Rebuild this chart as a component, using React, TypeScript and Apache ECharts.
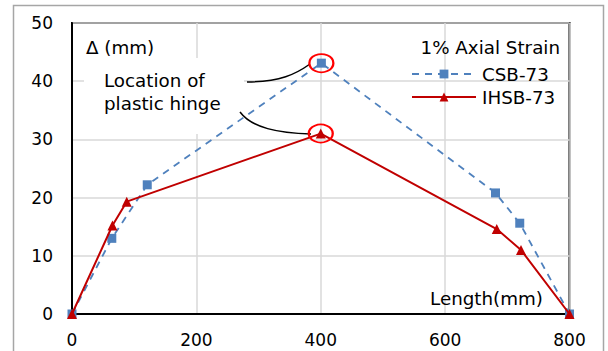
import React, { useEffect, useRef } from "react";
import * as echarts from "echarts";

const xTicks = [0, 200, 400, 600, 800];
const csbName = "CSB-73";
const ihsbName = "IHSB-73";
const csbLength = [0, 64, 121, 401, 681, 720, 800];
const csbDelta = [0, 13.0, 22.2, 43.1, 20.8, 15.6, 0];
const ihsbLength = [0, 65, 88, 400, 683, 722, 800];
const ihsbDelta = [0, 15.2, 19.3, 31.0, 14.6, 11.0, 0];
const hingeIndex = 3;
const legendTitle = "1% Axial Strain";
const yTitle = "\u0394 (mm)";
const xTitle = "Length(mm)";
const noteLines = ["Location of", "plastic hinge"];

const FONT = "DejaVu Sans";
const FS = 17;
const FT = 18.3;

export default function App() {
  const ref = useRef<HTMLDivElement>(null);
  useEffect(() => {
    const chart = echarts.init(ref.current!, null, { renderer: "svg" });
    const pair = (xs: number[], ys: number[]) => xs.map((x, i) => [x, ys[i]]);
    const hingeMark = (xs: number[], ys: number[]) => ({
      symbol: "circle",
      symbolSize: [24, 18],
      silent: true,
      label: { show: false },
      itemStyle: { color: "rgba(0,0,0,0)", borderColor: "#ff0000", borderWidth: 2 },
      data: [{ coord: [xs[hingeIndex], ys[hingeIndex]] }],
    });
    const font = `${FT}px '${FONT}'`;
    chart.setOption({
      animation: false,
      textStyle: { fontFamily: FONT },
      grid: {
        left: 72,
        top: 23,
        right: 38.5,
        bottom: 37,
        show: true,
        borderColor: "#000",
        borderWidth: 2,
        backgroundColor: "#fff",
      },
      xAxis: {
        type: "value",
        min: xTicks[0],
        max: xTicks[xTicks.length - 1],
        interval: 200,
        axisLine: { show: true, lineStyle: { color: "#000", width: 2 } },
        axisTick: { show: false },
        axisLabel: { color: "#000", fontSize: FS, fontFamily: FONT, margin: 17 },
        splitLine: { show: true, lineStyle: { color: "#d9d9d9", width: 1.5 } },
      },
      yAxis: {
        type: "value",
        min: 0,
        max: 50,
        interval: 10,
        axisLine: { show: true, lineStyle: { color: "#000", width: 2 } },
        axisTick: { show: false },
        axisLabel: { color: "#000", fontSize: FS, fontFamily: FONT, margin: 19 },
        splitLine: { show: true, lineStyle: { color: "#d9d9d9", width: 1.5 } },
      },
      legend: {
        orient: "vertical",
        left: 406,
        top: 60,
        itemWidth: 64,
        itemHeight: 11,
        itemGap: 5,
        textStyle: { color: "#000", fontSize: FT, fontFamily: FONT, padding: [0, 0, 0, 1] },
        data: [csbName, ihsbName],
      },
      series: [
        {
          name: csbName,
          type: "line",
          z: 3,
          data: pair(csbLength, csbDelta),
          symbol: "rect",
          symbolSize: 9,
          itemStyle: { color: "#4f81bd" },
          lineStyle: { color: "#4f81bd", width: 1.8, type: [7, 6] },
          markPoint: hingeMark(csbLength, csbDelta),
        },
        {
          name: ihsbName,
          type: "line",
          z: 4,
          data: pair(ihsbLength, ihsbDelta),
          symbol: "triangle",
          symbolSize: 10,
          itemStyle: { color: "#c00000" },
          lineStyle: { color: "#c00000", width: 2 },
          markPoint: hingeMark(ihsbLength, ihsbDelta),
        },
      ],
      graphic: [
        {
          type: "rect",
          z: -10,
          silent: true,
          shape: { x: 13.5, y: 5.5, width: 590, height: 370 },
          style: { fill: "#fff", stroke: "#a6a6a6", lineWidth: 1.5 },
        },
        {
          type: "rect",
          z: 1,
          silent: true,
          shape: { x: 84, y: 58, width: 160, height: 76 },
          style: { fill: "#fff" },
        },
        {
          type: "text",
          z: 5,
          x: 86,
          y: 47,
          style: { text: yTitle, fill: "#000", font, verticalAlign: "middle" },
        },
        {
          type: "text",
          z: 5,
          x: 104,
          y: 80,
          style: { text: noteLines[0], fill: "#000", font, verticalAlign: "middle" },
        },
        {
          type: "text",
          z: 5,
          x: 104,
          y: 103,
          style: { text: noteLines[1], fill: "#000", font, verticalAlign: "middle" },
        },
        {
          type: "text",
          z: 5,
          x: 560,
          y: 47,
          style: { text: legendTitle, fill: "#000", font, align: "right", verticalAlign: "middle" },
        },
        {
          type: "text",
          z: 5,
          x: 543,
          y: 298,
          style: { text: xTitle, fill: "#000", font, align: "right", verticalAlign: "middle" },
        },
        {
          type: "bezierCurve",
          z: 5,
          silent: true,
          shape: { x1: 247, y1: 82, cpx1: 280, cpy1: 82, cpx2: 296, cpy2: 74, x2: 310, y2: 64 },
          style: { stroke: "#000", lineWidth: 1.5, fill: null },
        },
        {
          type: "bezierCurve",
          z: 5,
          silent: true,
          shape: { x1: 240, y1: 112, cpx1: 252, cpy1: 128, cpx2: 278, cpy2: 133, x2: 311, y2: 134 },
          style: { stroke: "#000", lineWidth: 1.5, fill: null },
        },
      ],
    });
    return () => chart.dispose();
  }, []);
  return (
    <div
      ref={ref}
      style={{ position: "fixed", left: 0, top: 0, width: 608, height: 351, background: "#fff" }}
    />
  );
}
